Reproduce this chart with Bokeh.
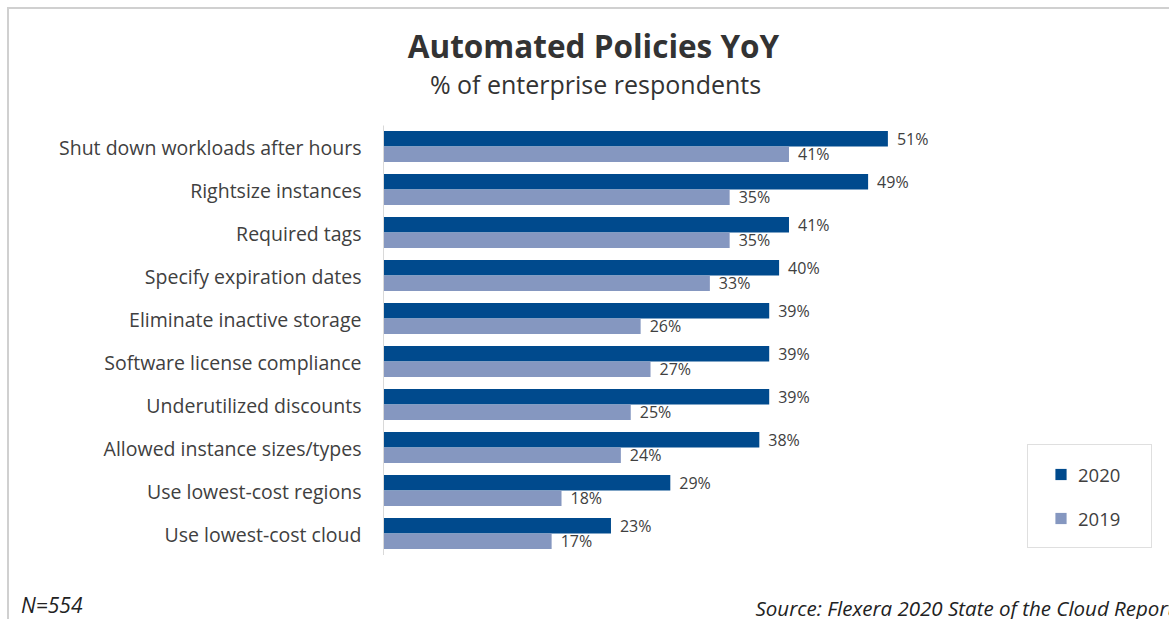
from bokeh.plotting import figure
from bokeh.layouts import column
from bokeh.models import ColumnDataSource, Range1d, FactorRange, Label, Legend, LegendItem, FixedTicker
from bokeh.transform import dodge
from bokeh.core.properties import value
from bokeh.embed import file_html
from bokeh.resources import INLINE

categories = [
    "Shut down workloads after hours",
    "Rightsize instances",
    "Required tags",
    "Specify expiration dates",
    "Eliminate inactive storage",
    "Software license compliance",
    "Underutilized discounts",
    "Allowed instance sizes/types",
    "Use lowest-cost regions",
    "Use lowest-cost cloud",
]
v2020 = [51, 49, 41, 40, 39, 39, 39, 38, 29, 23]
v2019 = [41, 35, 35, 33, 26, 27, 25, 24, 18, 17]
series = ["2020", "2019"]
title_text = "Automated Policies YoY"
subtitle_text = "% of enterprise respondents"
note_text = "N=554"
source_text = "Source: Flexera 2020 State of the Cloud Report"

C2020 = "#004A8D"
C2019 = "#8597C0"
TXT = "#404040"
FONT = "Open Sans"
W = 1160          # figure width
BL = 374          # left border (space for category labels)
FW = W - BL       # frame width

src = ColumnDataSource(dict(
    cat=categories,
    v2020=v2020,
    v2019=v2019,
    l2020=[f"{v}%" for v in v2020],
    l2019=[f"{v}%" for v in v2019],
))

# ---------- header ----------
HH = 116
hdr = figure(width=W, height=HH, title=None, x_range=Range1d(0, FW), y_range=Range1d(0, HH),
             x_axis_location=None, y_axis_location=None,
             output_backend="svg", toolbar_location=None,
             min_border_left=BL, min_border_right=0, min_border_top=0, min_border_bottom=0)
hdr.outline_line_color = None
hdr.grid.visible = False
hdr.add_layout(Label(x=210, y=80, text=title_text, text_align="center", text_baseline="alphabetic",
                     text_font=FONT, text_font_size="31.5px", text_font_style="bold", text_color="#333333"))
hdr.add_layout(Label(x=212, y=42, text=subtitle_text, text_align="center", text_baseline="alphabetic",
                     text_font=FONT, text_font_size="25px", text_color="#333333"))

# ---------- main chart ----------
p = figure(width=W, height=430, title=None,
           y_range=FactorRange(factors=categories[::-1]),
           x_range=Range1d(0, FW / 9.89),
           output_backend="svg", toolbar_location=None,
           min_border_left=BL, min_border_right=0,
           min_border_top=0, min_border_bottom=0)
p.outline_line_color = None
p.grid.visible = False
p.xaxis.visible = False
p.y_range.range_padding = 0

yax = p.yaxis[0]
yax.axis_line_color = "#D9D9D9"
yax.axis_line_width = 1
yax.major_tick_line_color = None
yax.minor_tick_line_color = None
yax.major_label_standoff = 16
yax.major_label_text_font = FONT
yax.major_label_text_font_size = "19.5px"
yax.major_label_text_color = TXT

h = 0.36
off_a = 0.19
off_b = -0.17
p.hbar(y=dodge("cat", off_a, range=p.y_range), left=0, right="v2020", height=h,
       fill_color=C2020, line_color=None, source=src)
p.hbar(y=dodge("cat", off_b, range=p.y_range), left=0, right="v2019", height=h,
       fill_color=C2019, line_color=None, source=src)

p.text(x="v2020", y=dodge("cat", off_a, range=p.y_range), text="l2020", source=src,
       x_offset=9, text_baseline="middle", text_align="left",
       text_font=value(FONT), text_font_size="16px", text_color=TXT)
p.text(x="v2019", y=dodge("cat", off_b, range=p.y_range), text="l2019", source=src,
       x_offset=9, text_baseline="middle", text_align="left",
       text_font=value(FONT), text_font_size="16px", text_color=TXT)

# zero-size markers, used only to give the legend square glyphs
ra = p.scatter(x="v2020", y="cat", size=0, marker="square", fill_color=C2020, line_color=None, source=src)
rb = p.scatter(x="v2019", y="cat", size=0, marker="square", fill_color=C2019, line_color=None, source=src)
legend = Legend(items=[LegendItem(label=series[0], renderers=[ra]),
                       LegendItem(label=series[1], renderers=[rb])],
                location=(644, 7), orientation="vertical",
                border_line_color="#BFBFBF", border_line_width=1,
                background_fill_color="white", background_fill_alpha=1,
                padding=15, spacing=16, margin=0,
                glyph_width=35, glyph_height=28, label_height=28, label_width=58,
                label_standoff=0,
                label_text_font=FONT, label_text_font_size="18.5px", label_text_color=TXT)
p.add_layout(legend)

# ---------- footer ----------
FH = 64
ftr = figure(width=W, height=FH, title=None, x_range=Range1d(0, FW), y_range=Range1d(0, FH),
             x_axis_location=None, y_axis_location="left",
             output_backend="svg", toolbar_location=None,
             min_border_left=BL, min_border_right=0, min_border_top=0, min_border_bottom=0)
ftr.outline_line_color = None
ftr.grid.visible = False
fax = ftr.yaxis[0]
fax.ticker = FixedTicker(ticks=[13])
fax.major_label_overrides = {13: note_text}
fax.axis_line_color = None
fax.major_tick_line_color = None
fax.minor_tick_line_color = None
fax.major_tick_out = 0
fax.major_label_standoff = BL - 73
fax.major_label_text_font = FONT
fax.major_label_text_font_size = "21px"
fax.major_label_text_font_style = "italic"
fax.major_label_text_color = "#222222"
ftr.add_layout(Label(x=372, y=12, text=source_text, text_align="left", text_baseline="alphabetic",
                     text_font=FONT, text_font_size="20.5px", text_font_style="italic", text_color="#222222"))

layout = column(hdr, p, ftr, spacing=0, margin=(7, 0, 0, 7),
                styles={"border-left": "2px solid #D0D0D0", "border-top": "2px solid #D0D0D0"})

open("out.html", "w").write(file_html(layout, INLINE))
